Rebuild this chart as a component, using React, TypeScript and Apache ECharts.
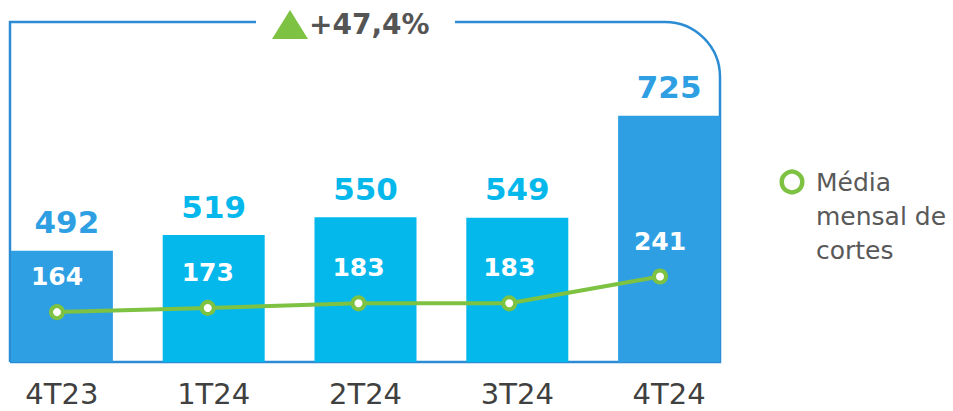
import React, { useEffect, useRef } from "react";
import * as echarts from "echarts";

const categories = ["4T23", "1T24", "2T24", "3T24", "4T24"];
const totalCortes = [492, 519, 550, 549, 725];
const mediaMensal = [164, 173, 183, 183, 241];
const barColors = ["#2E9FE3", "#05B8EC", "#05B8EC", "#05B8EC", "#2E9FE3"];
const growthText = "+47,4%";
const legendText = "Média\nmensal de\ncortes";

const FONT = "'DejaVu Sans', Verdana, sans-serif";
const BOX = "#2B8CD3";
const GREEN = "#7DC242";
const SHIFT = 14; // chart canvas starts 14px left of the page edge

export default function App() {
  const ref = useRef<HTMLDivElement>(null);
  useEffect(() => {
    if (!ref.current) return;
    const chart = echarts.init(ref.current, null, { renderer: "svg" });
    const X = (x: number) => x + SHIFT;
    chart.setOption({
      animation: false,
      grid: [
        { left: 0, right: 208, top: 72.3, bottom: 49 },
        { left: X(57), right: 293, top: 72.3, bottom: 49 },
      ],
      xAxis: [
        {
          type: "category",
          gridIndex: 0,
          data: categories,
          axisLine: { show: false },
          axisTick: { show: false },
          axisLabel: { fontFamily: FONT, fontSize: 29, color: "#404040", margin: 17 },
        },
        {
          type: "category",
          gridIndex: 1,
          data: categories,
          boundaryGap: false,
          show: false,
        },
      ],
      yAxis: [
        { type: "value", gridIndex: 0, min: 300, max: 800, show: false, splitLine: { show: false } },
        { type: "value", gridIndex: 1, min: 56, max: 683, show: false, splitLine: { show: false } },
      ],
      series: [
        {
          type: "bar",
          xAxisIndex: 0,
          yAxisIndex: 0,
          barWidth: 102,
          data: totalCortes.map((v, i) => ({
            value: v,
            itemStyle: { color: barColors[i] },
            label: { color: barColors[i], offset: i === 0 ? [5, 0] : [0, 0] },
          })),
          label: {
            show: true,
            position: "top",
            distance: 13,
            fontFamily: FONT,
            fontWeight: "bold",
            fontSize: 31,
          },
        },
        {
          type: "line",
          xAxisIndex: 1,
          yAxisIndex: 1,
          data: mediaMensal,
          symbol: "circle",
          symbolSize: 12,
          lineStyle: { color: GREEN, width: 4 },
          itemStyle: { color: "#ffffff", borderColor: GREEN, borderWidth: 4 },
          label: {
            show: true,
            position: "top",
            distance: 15,
            fontFamily: FONT,
            fontWeight: "bold",
            fontSize: 25,
            color: "#ffffff",
          },
          z: 5,
        },
      ],
      graphic: [
        {
          type: "polyline",
          shape: { points: [[X(10), 362], [X(10), 22], [X(256), 22]] },
          style: { stroke: BOX, lineWidth: 2.5, fill: null },
        },
        {
          type: "polyline",
          shape: { points: [[X(455), 22], [X(665), 22]] },
          style: { stroke: BOX, lineWidth: 2.5, fill: null },
        },
        {
          type: "arc",
          shape: { cx: X(665), cy: 77, r: 55, startAngle: -Math.PI / 2, endAngle: 0, clockwise: true },
          style: { stroke: BOX, lineWidth: 2.5, fill: null },
        },
        {
          type: "polyline",
          shape: { points: [[X(720), 77], [X(720), 362], [X(10), 362]] },
          style: { stroke: BOX, lineWidth: 2.5, fill: null },
        },
        {
          type: "polygon",
          shape: { points: [[X(272), 39], [X(290), 10], [X(308), 39]] },
          style: { fill: GREEN },
        },
        {
          type: "text",
          x: X(309),
          y: 24,
          style: {
            text: growthText,
            fontFamily: FONT,
            fontWeight: "bold",
            fontSize: 28,
            fill: "#555555",
            verticalAlign: "middle",
            align: "left",
          },
        },
        {
          type: "circle",
          shape: { cx: X(792), cy: 182, r: 10.3 },
          style: { fill: "#ffffff", stroke: GREEN, lineWidth: 4.5 },
        },
        {
          type: "text",
          x: X(816),
          y: 165,
          style: {
            text: legendText,
            fontFamily: FONT,
            fontSize: 25,
            lineHeight: 34,
            fill: "#595959",
            verticalAlign: "top",
            align: "left",
          },
        },
      ],
    });
    return () => chart.dispose();
  }, []);
  return (
    <div style={{ position: "absolute", left: 0, top: 0, width: 953, height: 411, overflow: "hidden" }}>
      <div
        ref={ref}
        style={{ position: "absolute", left: -SHIFT, top: 0, width: 953 + SHIFT, height: 411 }}
      />
    </div>
  );
}
